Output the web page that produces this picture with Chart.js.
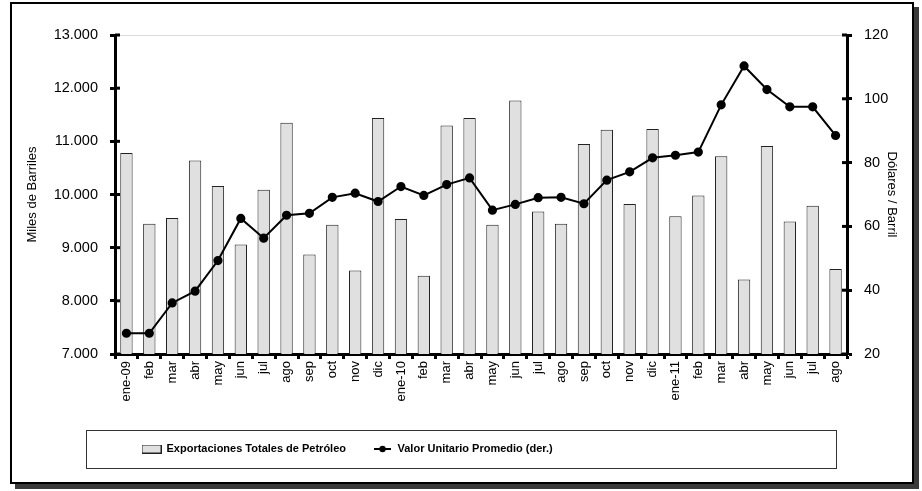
<!DOCTYPE html>
<html>
<head>
<meta charset="utf-8">
<script src="https://cdn.jsdelivr.net/npm/chart.js@4"></script>
<style>
  html, body { margin: 0; padding: 0; background: #fff; }
  #wrap { position: relative; width: 922px; height: 491px; }
  #frame {
    position: absolute; left: 10px; top: 2px; width: 900px; height: 478px;
    border: 2px solid #000; box-shadow: 5px 5px 0 #3a3a3a; pointer-events: none;
  }
</style>
</head>
<body>
<div id="wrap">
  <div id="frame"></div>
  <canvas id="chart" width="922" height="491"></canvas>
</div>
<script>
// Data
const months = ['ene-09', 'feb', 'mar', 'abr', 'may', 'jun', 'jul', 'ago', 'sep', 'oct', 'nov', 'dic',
  'ene-10', 'feb', 'mar', 'abr', 'may', 'jun', 'jul', 'ago', 'sep', 'oct', 'nov', 'dic',
  'ene-11', 'feb', 'mar', 'abr', 'may', 'jun', 'jul', 'ago'];

// Exportaciones Totales de Petróleo (miles de barriles)
const exportaciones = [10780, 9450, 9560, 10640, 10160, 9060, 10090, 11350, 8870, 9430, 8570, 11440,
  9540, 8470, 11300, 11440, 9430, 11770, 9680, 9450, 10950, 11220, 9820, 11230,
  9590, 9980, 10720, 8400, 10910, 9490, 9790, 8600];

// Valor Unitario Promedio (dólares / barril)
const valorUnitario = [26.5, 26.5, 36.0, 39.7, 49.3, 62.5, 56.3, 63.5, 64.1, 69.1, 70.4, 67.8,
  72.5, 69.7, 73.1, 75.2, 65.1, 66.9, 69.0, 69.1, 67.1, 74.5, 77.1, 81.5,
  82.3, 83.3, 98.1, 110.3, 102.9, 97.5, 97.5, 88.5];

const leftTicks = { min: 7000, max: 13000, step: 1000 };
const rightTicks = { min: 20, max: 120, step: 20 };

Chart.defaults.font.family = '"Liberation Sans", Arial, sans-serif';
Chart.defaults.color = '#000';

// legend glyphs
function barGlyph() {
  const c = document.createElement('canvas');
  c.width = 20; c.height = 9;
  const g = c.getContext('2d');
  g.fillStyle = '#e0e0e0';
  g.fillRect(0, 0, 20, 9);
  g.strokeStyle = '#222';
  g.lineWidth = 1;
  g.strokeRect(0.5, 0.5, 19, 8);
  return c;
}
function lineGlyph() {
  const c = document.createElement('canvas');
  c.width = 17; c.height = 8;
  const g = c.getContext('2d');
  g.strokeStyle = '#000';
  g.lineWidth = 2;
  g.beginPath(); g.moveTo(0, 4); g.lineTo(17, 4); g.stroke();
  g.fillStyle = '#000';
  g.beginPath(); g.arc(8.5, 4, 3.2, 0, Math.PI * 2); g.fill();
  return c;
}

const fmtThousands = v => Math.floor(v / 1000) + '.' + String(v % 1000).padStart(3, '0');

const extras = {
  id: 'extras',
  afterDraw(chart) {
    const ctx = chart.ctx;
    ctx.save();
    ctx.strokeStyle = '#000';
    ctx.lineWidth = 3;
    // inner half of the tick marks on both value axes
    ['y', 'y1'].forEach(id => {
      const s = chart.scales[id];
      const x = id === 'y' ? s.right : s.left;
      const dir = id === 'y' ? 1 : -1;
      s.ticks.forEach(t => {
        const py = s.getPixelForValue(t.value);
        ctx.beginPath();
        ctx.moveTo(x, py);
        ctx.lineTo(x + dir * 5, py);
        ctx.stroke();
      });
    });
    // legend frame
    ctx.lineWidth = 1;
    ctx.strokeStyle = '#333';
    ctx.strokeRect(86.5, 430.5, 750, 38);
    ctx.restore();
  }
};

new Chart(document.getElementById('chart'), {
  type: 'bar',
  data: {
    labels: months,
    datasets: [{
      type: 'bar',
      label: 'Exportaciones Totales de Petróleo',
      data: exportaciones,
      yAxisID: 'y',
      backgroundColor: '#e0e0e0',
      borderColor: '#222',
      borderWidth: 1,
      barPercentage: 0.54,
      categoryPercentage: 1,
      order: 2
    }, {
      type: 'line',
      label: 'Valor Unitario Promedio (der.)',
      data: valorUnitario,
      yAxisID: 'y1',
      borderColor: '#000',
      borderWidth: 2,
      pointRadius: 3.6,
      pointBackgroundColor: '#000',
      pointBorderColor: '#000',
      tension: 0,
      order: 1
    }]
  },
  options: {
    responsive: false,
    animation: false,
    layout: { padding: { left: 20, right: 20, top: 35, bottom: 26.5 } },
    plugins: {
      tooltip: { enabled: false },
      legend: {
        position: 'bottom',
        align: 'start',
        fullSize: false,
        labels: {
          usePointStyle: true,
          pointStyleWidth: 19,
          padding: 27,
          font: { size: 11, weight: 'bold' },
          color: '#000',
          sort: (a, b) => a.datasetIndex - b.datasetIndex,
          generateLabels(chart) {
            const items = Chart.defaults.plugins.legend.labels.generateLabels(chart);
            items.forEach(it => {
              it.pointStyle = it.datasetIndex === 0 ? barGlyph() : lineGlyph();
            });
            return items;
          }
        }
      }
    },
    scales: {
      x: {
        offset: true,
        afterFit(s) { s.height = 62.5; },
        border: { color: '#000', width: 3 },
        grid: { offset: true, drawOnChartArea: false, tickLength: 5, tickWidth: 3, tickColor: '#000' },
        ticks: { autoSkip: false, minRotation: 90, maxRotation: 90, padding: 2, font: { size: 13 } }
      },
      y: {
        position: 'left',
        min: leftTicks.min,
        max: leftTicks.max,
        afterFit(s) { s.width = 95; },
        border: { color: '#000', width: 3 },
        grid: {
          color: c => c.tick && c.tick.value === leftTicks.max ? '#dcdcdc' : 'rgba(0,0,0,0)',
          tickLength: 5, tickWidth: 3, tickColor: '#000'
        },
        ticks: { stepSize: leftTicks.step, padding: 12, font: { size: 14.5 }, callback: v => fmtThousands(v) },
        title: { display: true, text: 'Miles de Barriles', font: { size: 13 }, padding: { top: 5, bottom: 0 } }
      },
      y1: {
        position: 'right',
        min: rightTicks.min,
        max: rightTicks.max,
        afterFit(s) { s.width = 55; },
        border: { color: '#000', width: 3 },
        grid: { drawOnChartArea: false, tickLength: 5, tickWidth: 3, tickColor: '#000' },
        ticks: { stepSize: rightTicks.step, padding: 12, font: { size: 14.5 } },
        title: { display: true, text: 'Dólares / Barril', font: { size: 13 }, padding: { top: 3, bottom: 0 } }
      }
    }
  },
  plugins: [extras]
});
</script>
</body>
</html>
